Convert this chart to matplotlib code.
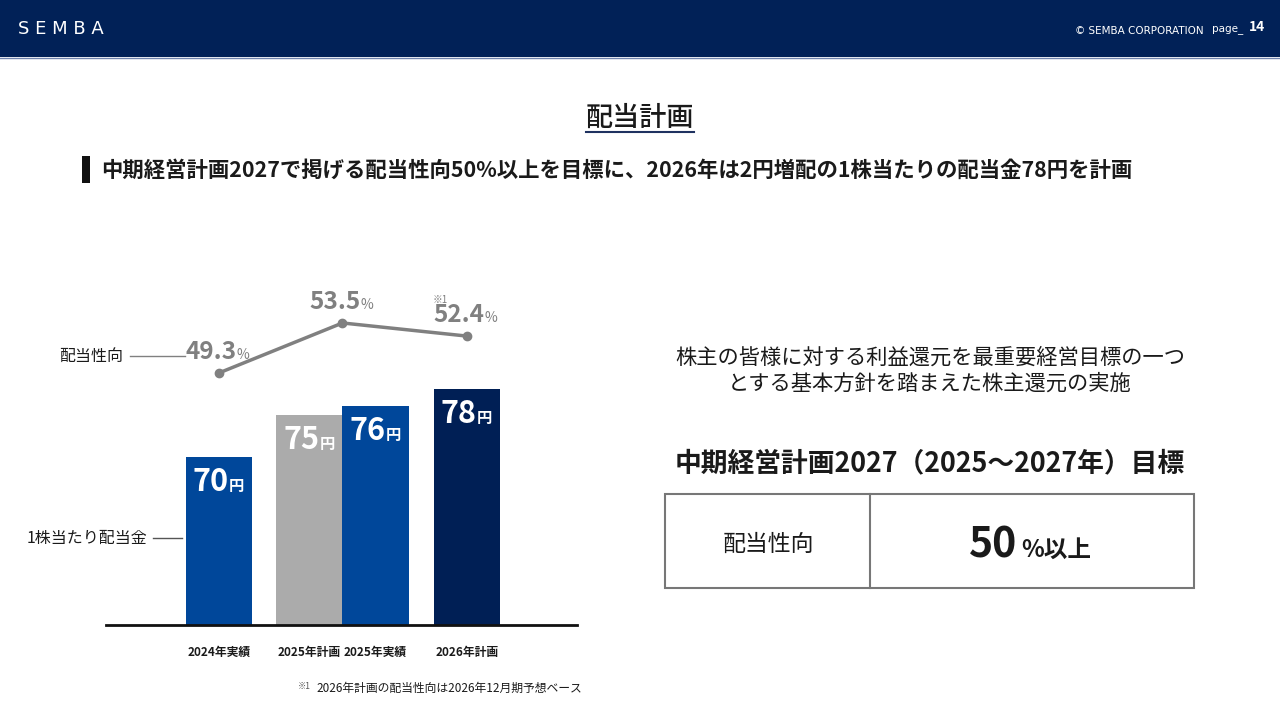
import matplotlib.pyplot as plt
from matplotlib.patches import Rectangle

plt.rcParams['font.family'] = ['Noto Sans CJK JP', 'DejaVu Sans']

# chart data
categories = ['2024年実績', '2025年計画', '2025年実績', '2026年計画']
dividend = [70, 75, 76, 78]
bar_colors = ['#00479a', '#ababab', '#00479a', '#001f55']
payout_ratio = [49.3, 53.5, 52.4]

# bar slots (in bar widths) and where the payout points sit
x_pos = [0, 1.37, 2.37, 3.75]
line_x = [0, 1.87, 3.75]

NAVY = '#012157'
TXT = '#1a1a1a'
GRAY = '#808080'

fig = plt.figure(figsize=(12.8, 7.2), dpi=100, facecolor='white')

# page canvas in pixel coords for the slide decorations
bg = fig.add_axes([0, 0, 1, 1])
bg.set_xlim(0, 1280)
bg.set_ylim(720, 0)
bg.axis('off')

# header band
bg.add_patch(Rectangle((0, 0), 1280, 57, color=NAVY, lw=0))
bg.plot([0, 1280], [57.5, 57.5], color='#6f83ad', lw=1)
bg.text(18, 29, 'S E M B A', color='white', fontsize=13, va='center',
        family=['DejaVu Sans'])
bg.text(1204, 31, '© SEMBA CORPORATION', color='white', fontsize=7.5,
        ha='right', va='center', family=['DejaVu Sans'])
bg.text(1212, 29, 'page_', color='white', fontsize=7.5, va='center', family=['DejaVu Sans'])
bg.text(1249, 27, '14', color='white', fontsize=10, fontweight='bold', va='center')

# title + headline
bg.text(640, 118, '配当計画', ha='center', va='center', fontsize=19.5, color=TXT, fontweight='medium')
bg.plot([586, 694], [132, 132], color='#1f3260', lw=1.5)
bg.add_patch(Rectangle((82, 156), 8, 27, color='#111111', lw=0))
bg.text(101, 170, '中期経営計画2027で掲げる配当性向50%以上を目標に、2026年は2円増配の1株当たりの配当金78円を計画',
        fontsize=15.4, fontweight='bold', va='center', color=TXT)

# right panel
bg.text(930, 358, '株主の皆様に対する利益還元を最重要経営目標の一つ', ha='center', va='center',
        fontsize=15.3, color=TXT)
bg.text(930, 384, 'とする基本方針を踏まえた株主還元の実施', ha='center', va='center',
        fontsize=15.3, color=TXT)
bg.text(930, 463, '中期経営計画2027（2025〜2027年）目標', ha='center', va='center',
        fontsize=19.3, fontweight='bold', color=TXT)
bg.add_patch(Rectangle((665, 494), 529, 94, fill=False, ec='#777777', lw=1.5))
bg.plot([870, 870], [494, 588], color='#777777', lw=1.5)
bg.text(768, 544, '配当性向', ha='center', va='center', fontsize=16.5, color=TXT)
bg.text(1017, 557, '50', ha='right', va='baseline', fontsize=29.5, fontweight='bold', color=TXT)
bg.text(1021, 557, '%以上', ha='left', va='baseline', fontsize=17, fontweight='bold', color=TXT)

# series labels on the left
bg.text(123, 356, '配当性向', ha='right', va='center', fontsize=11.5, color=TXT)
bg.plot([130, 185], [356, 356], color=GRAY, lw=1)
bg.text(147, 538, '1株当たり配当金', ha='right', va='center', fontsize=11.5, color=TXT)
bg.plot([153, 182], [538, 538], color='#555555', lw=1)

# footnote
bg.text(298, 686, '※1', fontsize=6, color='#555555', va='center')
bg.text(316, 688, '2026年計画の配当性向は2026年12月期予想ベース', fontsize=8.5, va='center', color=TXT)

# bar chart
ax = fig.add_axes([106 / 1280, 95 / 720, 471 / 1280, 335 / 720])
ax.patch.set_alpha(0)
ax.bar(x_pos, dividend, width=1.0, color=bar_colors)
ax.set_xlim(-1.71, 5.42)
ax.set_ylim(50.24, 89.65)
ax.set_yticks([])
ax.set_xticks(x_pos, categories, fontsize=8.5, fontweight='bold', color=TXT)
ax.tick_params(axis='x', length=0, pad=15)
for s in ['top', 'left', 'right']:
    ax.spines[s].set_visible(False)
ax.spines['bottom'].set_linewidth(2)
ax.spines['bottom'].set_color('#111111')

for x, v in zip(x_pos, dividend):
    ax.annotate(str(v), (x, v), xytext=(10, -34), textcoords='offset pixels',
                ha='right', va='baseline', fontsize=22, fontweight='bold', color='white')
    ax.annotate('円', (x, v), xytext=(10, -34), textcoords='offset pixels',
                ha='left', va='baseline', fontsize=11, fontweight='bold', color='white')

# payout ratio line
ax2 = ax.twinx()
ax2.set_ylim(28.12, 56.27)
ax2.axis('off')
ax2.plot(line_x, payout_ratio, color=GRAY, lw=2.5, marker='o', ms=6)
for x, v in zip(line_x, payout_ratio):
    ax2.annotate(f'{v:.1f}', (x, v), xytext=(18, 14), textcoords='offset pixels',
                 ha='right', va='baseline', fontsize=17.5, fontweight='bold', color=GRAY)
    ax2.annotate('%', (x, v), xytext=(18, 14), textcoords='offset pixels',
                 ha='left', va='baseline', fontsize=10, color=GRAY)
ax2.annotate('※1', (line_x[-1], payout_ratio[-1]), xytext=(-34, 36), textcoords='offset pixels',
             ha='left', va='center', fontsize=7, color=GRAY)

fig.savefig('out.png', dpi=100, facecolor='white')
